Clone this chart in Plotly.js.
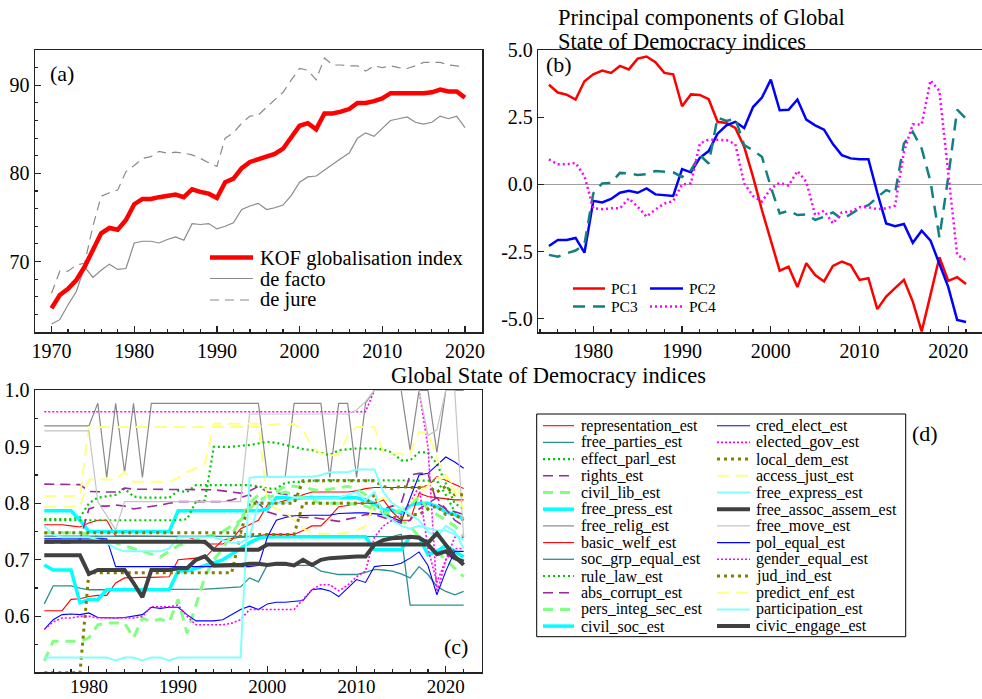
<!DOCTYPE html>
<html>
<head>
<meta charset="utf-8">
<script src="https://cdn.plot.ly/plotly-3.0.1.min.js"></script>
<style>
  html, body { margin: 0; padding: 0; background: #fff; }
  #chart { width: 982px; height: 699px; }
</style>
</head>
<body>
<div id="chart"></div>
<script>
// ---------- (a) KOF globalisation index ----------
const kofYears = [1970,1971,1972,1973,1974,1975,1976,1977,1978,1979,
  1980,1981,1982,1983,1984,1985,1986,1987,1988,1989,
  1990,1991,1992,1993,1994,1995,1996,1997,1998,1999,
  2000,2001,2002,2003,2004,2005,2006,2007,2008,2009,
  2010,2011,2012,2013,2014,2015,2016,2017,2018,2019,2020];
const kofIndex = [64.7,66.2,66.9,67.9,69.4,71.3,73.2,73.8,73.6,74.7,
  76.5,77.1,77.1,77.3,77.4,77.6,77.3,78.2,77.9,77.7,
  77.2,79.0,79.4,80.6,81.3,81.6,81.8,82.2,82.8,84.0,
  85.4,85.7,85.0,86.8,86.8,87.0,87.3,88.0,88.0,88.2,
  88.5,89.1,89.1,89.1,89.0,89.1,89.2,89.5,89.3,89.3,88.6];
const kofDeFacto = [62.9,63.4,65.1,66.6,69.4,68.2,69.0,69.7,69.1,69.2,
  72.1,72.3,72.3,72.1,72.5,72.8,72.4,74.3,74.2,74.3,
  73.7,74.0,74.4,75.9,76.3,76.6,75.9,76.1,76.4,77.5,
  79.0,79.6,79.7,80.4,81.1,81.7,82.3,84.0,84.6,84.2,
  85.1,86.0,86.2,86.4,85.8,85.6,85.8,86.5,86.2,86.5,85.2];
const kofDeJure = [66.4,68.9,68.9,69.6,69.8,74.0,77.4,77.8,78.1,80.2,
  80.9,81.7,81.9,82.5,82.3,82.4,82.3,82.1,81.7,81.2,
  80.8,84.0,84.6,85.7,86.5,86.6,87.5,88.4,89.2,90.6,
  91.9,91.7,90.6,93.1,92.3,92.3,92.2,92.2,91.6,92.2,
  92.0,92.2,92.0,91.9,92.2,92.6,92.6,92.6,92.3,92.2,92.0];

// ---------- (b) principal components ----------
const pcYears = [1975,1976,1977,1978,1979,1980,1981,1982,1983,1984,
  1985,1986,1987,1988,1989,1990,1991,1992,1993,1994,
  1995,1996,1997,1998,1999,2000,2001,2002,2003,2004,
  2005,2006,2007,2008,2009,2010,2011,2012,2013,2014,
  2015,2016,2017,2018,2019,2020,2021,2022];
const pc1 = [3.71,3.42,3.34,3.16,3.84,4.10,4.24,4.15,4.41,4.28,
  4.68,4.76,4.55,4.15,4.10,2.91,3.35,3.33,3.17,2.33,
  2.29,2.10,1.40,0.28,-0.95,-2.10,-3.21,-3.06,-3.82,-2.93,
  -3.37,-3.61,-3.03,-2.87,-3.00,-3.55,-3.49,-4.64,-4.17,-3.86,
  -3.55,-4.36,-5.47,-4.10,-2.71,-3.59,-3.45,-3.70];
const pc2 = [-2.29,-2.07,-2.07,-1.99,-2.54,-0.61,-0.67,-0.54,-0.31,-0.24,
  -0.31,-0.15,-0.37,-0.40,-0.43,0.57,0.45,0.99,1.24,1.89,
  2.20,2.33,2.10,2.88,3.23,3.90,2.76,2.78,3.16,2.41,
  2.20,2.04,1.50,1.09,0.97,0.94,0.94,-0.31,-1.45,-1.55,
  -1.47,-2.17,-1.72,-2.09,-2.93,-3.82,-5.04,-5.12];
const pc3 = [-2.62,-2.69,-2.56,-2.46,-2.23,-0.33,0.04,0.06,0.43,0.41,
  0.35,0.38,0.50,0.47,0.45,0.28,0.53,1.09,0.78,2.49,
  2.36,2.45,1.46,1.27,1.03,-0.09,-1.08,-0.98,-1.14,-1.11,
  -1.32,-1.20,-1.04,-1.29,-1.11,-0.89,-0.77,-0.48,-0.21,-0.33,
  1.52,1.96,1.34,0.10,-1.97,0.28,2.78,2.45];
const pc4 = [0.93,0.75,0.75,0.80,0.31,-0.89,-0.92,-0.89,-0.89,-0.52,
  -0.83,-1.20,-0.93,-0.71,-0.62,0.00,0.04,1.52,1.67,1.65,
  1.65,1.50,0.04,-0.43,-0.64,-0.15,0.06,-0.04,0.50,0.10,
  -1.14,-0.98,-1.45,-1.04,-1.01,-0.85,-0.85,-0.92,-0.89,-0.79,
  1.21,2.24,2.23,3.87,3.48,0.41,-2.62,-2.81];

// ---------- (c) Global State of Democracy indices ----------
const gsodYears = pcYears;
const representation_est = [.762,.762,.762,.760,.758,.765,.770,.770,.742,.742,
  .742,.742,.741,.741,.742,.742,.741,.735,.728,.728,
  .728,.735,.755,.762,.770,.797,.800,.805,.809,.815,
  .820,.820,.820,.820,.820,.822,.826,.828,.828,.828,
  .828,.828,.828,.830,.847,.841,.833,.826];
const free_parties_est = [.622,.654,.654,.654,.650,.647,.647,.647,.647,.647,
  .647,.647,.647,.647,.647,.648,.648,.648,.648,.649,
  .650,.650,.652,.668,.661,.691,.690,.690,.690,.690,
  .690,.680,.677,.674,.674,.674,.678,.683,.682,.680,
  .675,.668,.688,.674,.653,.644,.638,.644];
const effect_parl_est = [.772,.772,.772,.772,.775,.800,.810,.812,.815,.826,
  .812,.810,.810,.810,.810,.822,.820,.832,.832,.832,
  .832,.832,.832,.832,.830,.826,.826,.836,.838,.838,
  .840,.841,.841,.841,.841,.841,.841,.841,.841,.841,
  .841,.841,.841,.841,.840,.815,.785,.768];
const rights_est = [.834,.834,.834,.834,.833,.821,.820,.820,.820,.827,
  .825,.825,.825,.825,.824,.824,.824,.824,.824,.824,
  .822,.820,.818,.822,.830,.820,.818,.816,.814,.812,
  .812,.810,.810,.812,.812,.810,.808,.800,.790,.795,
  .800,.850,.853,.853,.800,.790,.785,.780];
const civil_lib_est = [.748,.748,.748,.748,.748,.745,.740,.735,.730,.725,
  .720,.715,.710,.705,.715,.725,.730,.735,.740,.745,
  .750,.760,.770,.790,.805,.812,.820,.830,.830,.828,
  .825,.822,.825,.828,.830,.826,.815,.790,.780,.775,
  .770,.760,.740,.725,.715,.700,.685,.670];
const free_press_est = [.787,.787,.787,.787,.770,.750,.750,.750,.750,.750,
  .750,.750,.750,.750,.750,.787,.787,.787,.787,.787,
  .787,.787,.787,.787,.787,.790,.810,.810,.808,.810,
  .810,.810,.810,.810,.810,.810,.805,.800,.788,.788,
  .782,.797,.800,.800,.794,.785,.780,.773];
const free_relig_est = [.937,.937,.937,.937,.937,.937,.977,.846,.977,.855,
  .977,.846,.977,.977,.977,.977,.977,.977,.977,.977,
  .977,.977,.977,.977,.977,.847,.847,.847,.977,.977,
  .977,.977,.846,.977,.977,.846,.977,1.0,1.0,1.0,
  1.0,.894,1.0,1.0,.890,1.0,1.0,1.0];
const basic_welf_est = [.610,.610,.610,.630,.631,.635,.637,.637,.659,.668,
  .669,.669,.669,.670,.670,.700,.702,.703,.704,.720,
  .735,.738,.740,.740,.742,.745,.745,.745,.745,.752,
  .760,.760,.776,.794,.796,.800,.800,.800,.806,.785,
  .770,.770,.818,.812,.810,.808,.806,.806];
const soc_grp_equal_est = [.742,.742,.742,.742,.742,.741,.741,.741,.741,.741,
  .741,.741,.741,.741,.741,.741,.741,.741,.741,.741,
  .741,.741,.741,.741,.741,.741,.741,.741,.741,.741,
  .741,.741,.741,.741,.741,.741,.741,.741,.741,.741,
  .745,.620,.620,.620,.620,.620,.620,.620];
const rule_law_est = [.770,.770,.770,.770,.771,.770,.770,.770,.770,.770,
  .770,.770,.770,.770,.770,.770,.772,.803,.805,.900,
  .900,.900,.902,.903,.906,.909,.907,.903,.900,.896,
  .894,.890,.885,.894,.896,.897,.897,.897,.895,.890,
  .876,.876,.890,.890,.870,.835,.800,.790];
const abs_corrupt_est = [.730,.730,.730,.730,.735,.790,.795,.795,.797,.795,
  .790,.792,.795,.797,.800,.803,.803,.803,.803,.803,
  .803,.806,.810,.815,.800,.785,.780,.778,.776,.775,
  .775,.773,.770,.768,.772,.775,.780,.780,.775,.770,
  .765,.770,.790,.800,.810,.790,.770,.760];
const pers_integ_sec_est = [.521,.556,.556,.556,.556,.562,.585,.588,.588,.588,
  .562,.597,.591,.595,.590,.630,.570,.620,.670,.700,
  .720,.745,.770,.800,.815,.810,.815,.820,.815,.810,
  .805,.800,.800,.800,.800,.798,.795,.790,.785,.780,
  .790,.800,.810,.790,.780,.770,.760,.740];
const civil_soc_est = [.691,.682,.682,.682,.624,.630,.630,.647,.647,.647,
  .647,.647,.647,.647,.647,.680,.680,.685,.690,.695,
  .700,.710,.720,.730,.738,.741,.741,.741,.741,.741,
  .741,.741,.741,.741,.741,.741,.741,.718,.718,.718,
  .718,.741,.741,.709,.715,.725,.715,.705];
const cred_elect_est = [.737,.737,.737,.737,.737,.737,.737,.737,.688,.688,
  .688,.688,.688,.688,.688,.688,.688,.688,.688,.688,
  .688,.688,.688,.688,.690,.740,.770,.775,.778,.779,
  .779,.779,.779,.782,.783,.783,.783,.782,.780,.775,
  .768,.809,.850,.853,.868,.882,.873,.862];
const elected_gov_est = [.962,.962,.962,.962,.962,.962,.962,.962,.962,.962,
  .962,.962,.962,.962,.962,.962,.962,.962,.962,.962,
  .962,.962,.962,.962,.962,.962,.962,.962,.962,.962,
  .962,.962,.962,.962,.962,.962,.962,1.0,1.0,1.0,
  1.0,1.0,1.0,.900,.640,.700,.740,.740];
const local_dem_est = [.500,.500,.500,.500,.500,.677,.677,.677,.677,.677,
  .677,.677,.677,.677,.677,.677,.677,.677,.677,.677,
  .677,.677,.745,.745,.745,.745,.745,.745,.745,.800,
  .800,.800,.800,.800,.800,.800,.800,.815,.780,.775,
  .775,.780,.780,.790,.795,.780,.780,.770];
const access_just_est = [.813,.813,.813,.813,.813,.935,.935,.935,.935,.935,
  .935,.935,.935,.935,.935,.935,.935,.935,.935,.935,
  .935,.935,.935,.935,.935,.938,.940,.940,.940,.930,
  .900,.888,.885,.885,.920,.935,.935,.935,.890,.888,
  .888,.888,.926,.924,.880,.850,.830,.810];
const free_express_est = [.760,.745,.740,.740,.740,.740,.735,.730,.720,.715,
  .715,.715,.715,.715,.720,.740,.740,.740,.740,.740,
  .735,.730,.730,.740,.800,.810,.800,.800,.810,.810,
  .810,.810,.810,.810,.815,.820,.805,.820,.780,.770,
  .760,.755,.760,.756,.752,.752,.745,.735];
const free_assoc_assem_est = [.732,.732,.732,.732,.732,.732,.732,.732,.732,.732,
  .732,.732,.732,.732,.732,.732,.732,.732,.732,.718,
  .718,.718,.718,.718,.718,.727,.727,.727,.727,.727,
  .727,.727,.727,.727,.727,.727,.727,.727,.727,.727,
  .727,.727,.727,.727,.710,.715,.703,.697];
const free_move_est = [.928,.928,.928,.928,.928,.928,.803,.778,.753,.803,
  .803,.803,.803,.803,.803,.803,.803,.803,.803,.803,
  .803,.803,.803,.958,.958,.958,.958,.958,.958,.958,
  .958,.958,.958,.958,.958,.965,.980,1.0,1.0,1.0,
  1.0,1.0,1.0,.920,.930,1.0,1.0,.740];
const pol_equal_est = [.577,.594,.603,.604,.603,.606,.598,.597,.597,.598,
  .600,.603,.616,.614,.616,.616,.603,.592,.592,.592,
  .594,.603,.612,.618,.612,.622,.625,.625,.627,.628,
  .647,.649,.645,.635,.650,.665,.660,.688,.690,.690,
  .694,.703,.714,.690,.638,.680,.715,.715];
const gender_equal_est = [.577,.590,.597,.597,.600,.600,.597,.597,.597,.597,
  .597,.600,.617,.617,.617,.620,.600,.585,.585,.585,
  .585,.588,.594,.612,.612,.612,.612,.612,.612,.630,
  .647,.656,.656,.645,.655,.670,.680,.740,.760,.770,
  .780,.800,.830,.720,.660,.700,.720,.720];
const jud_ind_est = [.748,.748,.748,.748,.748,.748,.748,.748,.748,.748,
  .748,.748,.748,.748,.748,.748,.748,.748,.748,.748,
  .748,.748,.748,.800,.800,.800,.800,.800,.800,.840,
  .840,.840,.840,.840,.840,.840,.840,.840,.830,.826,
  .830,.828,.828,.830,.820,.830,.815,.815];
const predict_enf_est = [.794,.794,.794,.794,.794,.842,.842,.842,.842,.855,
  .838,.838,.838,.838,.838,.845,.855,.862,.870,.941,
  .941,.941,.941,.941,.941,.800,.790,.785,.770,.755,
  .748,.746,.746,.746,.748,.752,.760,.800,.810,.800,
  .790,.800,.820,.830,.845,.845,.820,.790];
const participation_est = [.527,.527,.527,.527,.527,.527,.527,.527,.522,.527,
  .527,.522,.527,.527,.522,.527,.527,.527,.527,.527,
  .527,.527,.527,.845,.847,.847,.847,.847,.847,.847,
  .847,.850,.855,.855,.855,.860,.860,.860,.820,.800,
  .790,.780,.770,.750,.740,.760,.750,.720];
const civic_engage_est = [.708,.708,.708,.708,.708,.675,.682,.682,.682,.682,
  .659,.634,.682,.682,.682,.685,.685,.700,.706,.690,
  .691,.691,.691,.693,.693,.691,.693,.693,.690,.700,
  .691,.700,.703,.704,.706,.706,.706,.727,.735,.738,
  .739,.741,.739,.730,.747,.727,.706,.691];

// ---------- styles ----------
const W = 982, H = 699;
const FONT = '"Liberation Serif", "Times New Roman", serif';
const ST = {
  red:    { color: '#ff0000', width: 1.1, dash: 'solid' },
  teal:   { color: '#2a8f8f', width: 1.3, dash: 'solid' },
  gdot:   { color: '#00c800', width: 2.2, dash: '2px,3px' },
  pdash:  { color: '#9a2a9a', width: 1.6, dash: '10px,6px' },
  lgdash: { color: '#80ff80', width: 3,   dash: '10px,7px' },
  cyan:   { color: '#00ffff', width: 3.5, dash: 'solid' },
  grey:   { color: '#888888', width: 1.2, dash: 'solid' },
  blue:   { color: '#0000ff', width: 1.1, dash: 'solid' },
  mdot:   { color: '#ff00ff', width: 1.6, dash: '2px,2px' },
  odot:   { color: '#808000', width: 3,   dash: '3px,4px' },
  ydash:  { color: '#ffff80', width: 2,   dash: '12px,7px' },
  lcyan:  { color: '#80ffff', width: 2,   dash: 'solid' },
  dark:   { color: '#404040', width: 4,   dash: 'solid' },
  lgrey:  { color: '#c4c4c4', width: 1.2, dash: 'solid' }
};

// legend columns of panel (d), in drawing order
const gsodCol1 = [
  ['representation_est', representation_est, ST.red],
  ['free_parties_est', free_parties_est, ST.teal],
  ['effect_parl_est', effect_parl_est, ST.gdot],
  ['rights_est', rights_est, ST.pdash],
  ['civil_lib_est', civil_lib_est, ST.lgdash],
  ['free_press_est', free_press_est, ST.cyan],
  ['free_relig_est', free_relig_est, ST.grey],
  ['basic_welf_est', basic_welf_est, ST.red],
  ['soc_grp_equal_est', soc_grp_equal_est, ST.teal],
  ['rule_law_est', rule_law_est, ST.gdot],
  ['abs_corrupt_est', abs_corrupt_est, ST.pdash],
  ['pers_integ_sec_est', pers_integ_sec_est, ST.lgdash],
  ['civil_soc_est', civil_soc_est, ST.cyan]
];
const gsodCol2 = [
  ['cred_elect_est', cred_elect_est, ST.blue],
  ['elected_gov_est', elected_gov_est, ST.mdot],
  ['local_dem_est', local_dem_est, ST.odot],
  ['access_just_est', access_just_est, ST.ydash],
  ['free_express_est', free_express_est, ST.lcyan],
  ['free_assoc_assem_est', free_assoc_assem_est, ST.dark],
  ['free_move_est', free_move_est, ST.lgrey],
  ['pol_equal_est', pol_equal_est, ST.blue],
  ['gender_equal_est', gender_equal_est, ST.mdot],
  ['jud_ind_est', jud_ind_est, ST.odot],
  ['predict_enf_est', predict_enf_est, ST.ydash],
  ['participation_est', participation_est, ST.lcyan],
  ['civic_engage_est', civic_engage_est, ST.dark]
];

// ---------- helpers ----------
const fx = p => p / W;
const fy = p => 1 - p / H;
const traces = [];
const shapes = [];
const annotations = [];

function line(x, y, xa, ya, st, name) {
  traces.push({ type: 'scatter', mode: 'lines', x: x, y: y, xaxis: xa, yaxis: ya, name: name,
    line: { color: st.color, width: st.width, dash: st.dash || 'solid' }, hoverinfo: 'skip' });
}
function key(x0, x1, y, st) {
  shapes.push({ type: 'line', xref: 'paper', yref: 'paper', x0: fx(x0), x1: fx(x1), y0: fy(y), y1: fy(y),
    line: { color: st.color, width: st.width, dash: st.dash || 'solid' } });
}
function label(x, y, text, size, anchor) {
  annotations.push({ xref: 'paper', yref: 'paper', x: fx(x), y: fy(y), text: text, showarrow: false,
    xanchor: anchor || 'left', yanchor: 'middle', borderpad: 0,
    font: { family: FONT, size: size, color: '#000' } });
}

// ---------- panel (a) ----------
const stKof = { color: '#ff0000', width: 4.5 };
const stFacto = { color: '#8a8a8a', width: 1.2 };
const stJure = { color: '#8a8a8a', width: 1.2, dash: '9px,6px' };
line(kofYears, kofDeJure, 'x', 'y', stJure, 'de jure');
line(kofYears, kofDeFacto, 'x', 'y', stFacto, 'de facto');
line(kofYears, kofIndex, 'x', 'y', stKof, 'KOF globalisation index');
key(210, 253, 257.5, stKof);   label(259, 258, 'KOF globalisation index', 20.5);
key(210, 253, 278.5, stFacto); label(259, 279, 'de facto', 20.5);
key(210, 253, 300, stJure);    label(259, 299, 'de jure', 20.5);
label(49, 73, '(a)', 22);

// ---------- panel (b) ----------
const stPC = [
  { color: '#ff0000', width: 2.5 },
  { color: '#0000ff', width: 2.5 },
  { color: '#138080', width: 2.5, dash: '12px,8px' },
  { color: '#ff00ff', width: 2.5, dash: '2px,3px' }
];
const pcSeries = [pc1, pc2, pc3, pc4];
const pcNames = ['PC1', 'PC2', 'PC3', 'PC4'];
pcSeries.forEach((s, i) => line(pcYears, s, 'x2', 'y2', stPC[i], pcNames[i]));
key(573, 605, 288.5, stPC[0]); label(610, 288.5, 'PC1', 15.5);
key(650, 683, 288.5, stPC[1]); label(688, 288.5, 'PC2', 15.5);
key(573, 605, 306.5, stPC[2]); label(610, 306.5, 'PC3', 15.5);
key(650, 683, 306.5, stPC[3]); label(688, 306.5, 'PC4', 15.5);
label(545, 64, '(b)', 22);
label(557, 17, 'Principal components of Global', 22.5);
label(557, 41, 'State of Democracy indices', 22.5);

// ---------- panel (c) ----------
gsodCol1.concat(gsodCol2).forEach(s => line(gsodYears, s[1], 'x3', 'y3', s[2], s[0]));
label(390, 375, 'Global State of Democracy indices', 22.5);
label(456, 646, '(c)', 22, 'center');

// ---------- panel (d): legend of (c) ----------
shapes.push({ type: 'rect', xref: 'paper', yref: 'paper', x0: fx(536.7), x1: fx(905.7), y0: fy(636.7), y1: fy(414),
  line: { color: '#000', width: 1 }, fillcolor: 'rgba(0,0,0,0)' });
gsodCol1.forEach((s, i) => { const y = 425.7 + 16.7 * i; key(543, 574, y, s[2]); label(580, y, s[0], 16); });
gsodCol2.forEach((s, i) => { const y = 425.7 + 16.7 * i; key(717, 750, y, s[2]); label(755, y, s[0], 16); });
label(911, 433, '(d)', 22);

// ---------- axes ----------
const tickFont = { family: FONT, size: 20, color: '#000' };
function axisBase(extra) {
  return Object.assign({
    showline: true, linecolor: '#222', linewidth: 1.5, mirror: true,
    ticks: 'inside', ticklen: 6, tickwidth: 1.2, tickcolor: '#222',
    showgrid: false, zeroline: false, tickfont: tickFont, fixedrange: true
  }, extra);
}
const yearTicksA = [1970, 1980, 1990, 2000, 2010, 2020];
const yearTicks = [1980, 1990, 2000, 2010, 2020];
const pcTicks = [-5, -2.5, 0, 2.5, 5];
const gsodTicks = [0.6, 0.7, 0.8, 0.9, 1.0];

const topRowY = [fy(332), fy(50)];
const layout = {
  width: W, height: H,
  margin: { l: 0, r: 0, t: 0, b: 0 },
  paper_bgcolor: '#fff', plot_bgcolor: '#fff',
  showlegend: false,
  font: { family: FONT, color: '#000' },
  xaxis: axisBase({ domain: [fx(35), fx(482)], anchor: 'y', range: [1968, 2022.06],
    tickvals: yearTicksA, minor: { dtick: 2, tick0: 1970, ticks: 'inside', ticklen: 3, tickcolor: '#222' } }),
  yaxis: axisBase({ domain: topRowY, anchor: 'x', range: [62, 94],
    tickvals: [70, 80, 90], minor: { dtick: 2, tick0: 70, ticks: 'inside', ticklen: 3, tickcolor: '#222' } }),
  xaxis2: axisBase({ domain: [fx(538.3), 1], anchor: 'y2', range: [1973.8, 2023.8],
    tickvals: yearTicks, minor: { dtick: 2, tick0: 1980, ticks: 'inside', ticklen: 3, tickcolor: '#222' } }),
  yaxis2: axisBase({ domain: topRowY, anchor: 'x2', range: [-5.49, 5.002], mirror: false,
    tickvals: pcTicks, ticktext: pcTicks.map(v => v.toFixed(1)),
    zeroline: true, zerolinecolor: '#a0a0a0', zerolinewidth: 1.2 }),
  xaxis3: axisBase({ domain: [fx(35), fx(481.5)], anchor: 'y3', range: [1973.96, 2024.0],
    tickvals: yearTicks, tickfont: { family: FONT, size: 19, color: '#000' }, ticklabelstandoff: -3,
    minor: { dtick: 2, tick0: 1980, ticks: 'inside', ticklen: 3, tickcolor: '#222' } }),
  yaxis3: axisBase({ domain: [fy(672), fy(390)], anchor: 'x3', range: [0.5015, 1.0005],
    tickvals: gsodTicks, ticktext: gsodTicks.map(v => v.toFixed(1)),
    minor: { dtick: 0.05, tick0: 0.5, ticks: 'inside', ticklen: 3, tickcolor: '#222' } }),
  shapes: shapes,
  annotations: annotations
};

Plotly.newPlot('chart', traces, layout, { displayModeBar: false, staticPlot: true });
</script>
</body>
</html>
